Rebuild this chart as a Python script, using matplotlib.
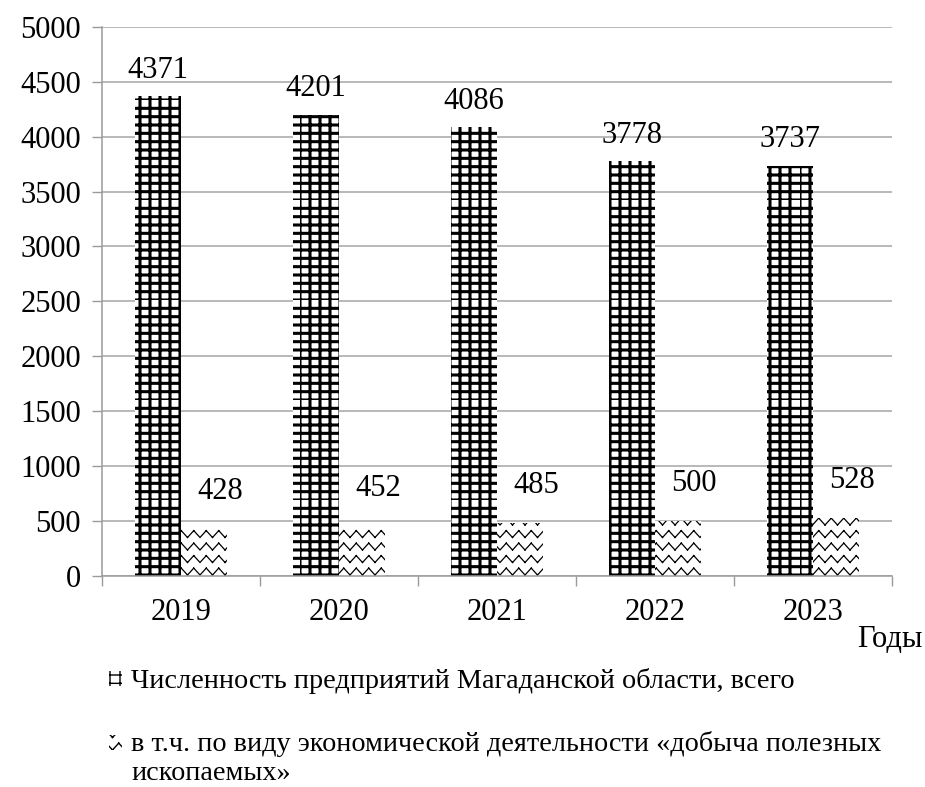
import numpy as np
import matplotlib
matplotlib.use("Agg")
from matplotlib import pyplot as plt
from matplotlib import hatch as mhatch
from matplotlib.path import Path

years = ['2019', '2020', '2021', '2022', '2023']
total = [4371, 4201, 4086, 3778, 3737]
mining = [428, 452, 485, 500, 528]
labels = ['Численность предприятий Магаданской области, всего',
          'в т.ч. по виду экономической деятельности «добыча полезных\nископаемых»']
yticks = [0, 500, 1000, 1500, 2000, 2500, 3000, 3500, 4000, 4500, 5000]


# zigzag hatch, like the Excel "wave" fill (drawn as separate segments)
class ZigZag(mhatch.HatchPatternBase):
    def __init__(self, hatch, density):
        self.num_rows = hatch.count('z') * density * 2 // 3
        self.num_cols = self.num_rows
        self.num_vertices = self.num_rows * self.num_cols * 4

    def set_vertices_and_codes(self, vertices, codes):
        n = self.num_rows
        m = self.num_cols
        h = 0.55 / n
        k = 0
        for i in range(n):
            y0 = i / n
            for j in range(m):
                xa = j / m
                xm = (j + 0.5) / m
                xb = (j + 1) / m
                for p, q in [((xa, y0), (xm, y0 + h)), ((xm, y0 + h), (xb, y0))]:
                    vertices[k] = p
                    codes[k] = Path.MOVETO
                    vertices[k + 1] = q
                    codes[k + 1] = Path.LINETO
                    k += 2


# square grid hatch with separate line counts
class Grid(mhatch.HatchPatternBase):
    def __init__(self, hatch, density):
        c = hatch.count('g')
        self.nh = 12 * c
        self.nv = 10 * c
        self.num_vertices = (self.nh + self.nv) * 2

    def set_vertices_and_codes(self, vertices, codes):
        k = 0
        for i in range(self.nh):
            y = i / self.nh
            vertices[k] = (0, y)
            vertices[k + 1] = (1, y)
            codes[k] = Path.MOVETO
            codes[k + 1] = Path.LINETO
            k += 2
        for i in range(self.nv):
            xv = i / self.nv
            vertices[k] = (xv, 0)
            vertices[k + 1] = (xv, 1)
            codes[k] = Path.MOVETO
            codes[k + 1] = Path.LINETO
            k += 2


mhatch._hatch_types.append(ZigZag)
mhatch._hatch_types.append(Grid)

plt.rcParams['font.family'] = ['Liberation Serif', 'DejaVu Serif']

fig = plt.figure(figsize=(9.25, 7.87), dpi=100)
ax = fig.add_axes([0.110, 0.268, 0.854, 0.698])

x = np.arange(len(years))
w = 0.29

with plt.rc_context({'hatch.linewidth': 2.2}):
    b1 = ax.bar(x - w / 2, total, w, color='white', edgecolor='black',
                linewidth=0, hatch='g', label=labels[0], zorder=2)
with plt.rc_context({'hatch.linewidth': 0.9}):
    b2 = ax.bar(x + w / 2, mining, w, color='white', edgecolor='black',
                linewidth=0, hatch='zz', label=labels[1], zorder=2)

for xi, v in zip(x, total):
    ax.annotate(str(v), (xi - w / 2, v), xytext=(0, 18.5), textcoords='offset points',
                ha='center', va='center', fontsize=22)
for xi, v in zip(x, mining):
    ax.annotate(str(v), (xi + w / 2, v), xytext=(12, 27), textcoords='offset points',
                ha='center', va='center', fontsize=22)

ax.set_xlim(-0.5, len(years) - 0.5)
ax.set_ylim(0, 5000)
ax.set_yticks(yticks)
ax.set_yticklabels([str(t) for t in yticks], fontsize=22)
ax.set_xticks(x)
ax.set_xticklabels(years, fontsize=22)
ax.set_xticks(np.arange(len(years) + 1) - 0.5, minor=True)
ax.tick_params(axis='x', which='major', length=0, pad=16)
ax.tick_params(axis='x', which='minor', length=7, color='#9a9a9a', width=1)
ax.tick_params(axis='y', length=7, color='#9a9a9a', width=1, pad=8)

ax.grid(axis='y', color='#a6a6a6', linewidth=1.1, zorder=0)
ax.set_axisbelow(True)
for s in ['top', 'right']:
    ax.spines[s].set_visible(False)
for s in ['left', 'bottom']:
    ax.spines[s].set_color('#9a9a9a')
    ax.spines[s].set_linewidth(1.1)

fig.text(0.927, 0.188, 'Годы', fontsize=22, ha='left', va='center')

leg = fig.legend(handles=[b1, b2], loc='upper left', bbox_to_anchor=(0.118, 0.151),
                 frameon=False, fontsize=20.3, handlelength=0.45, handleheight=0.45,
                 handletextpad=0.33, labelspacing=1.3, borderaxespad=0, borderpad=0)
# put the second marker next to the first line of its label
h2 = leg.legend_handles[1]
h2.set_y(h2.get_y() + 11)

fig.savefig('out.png', dpi=100)
